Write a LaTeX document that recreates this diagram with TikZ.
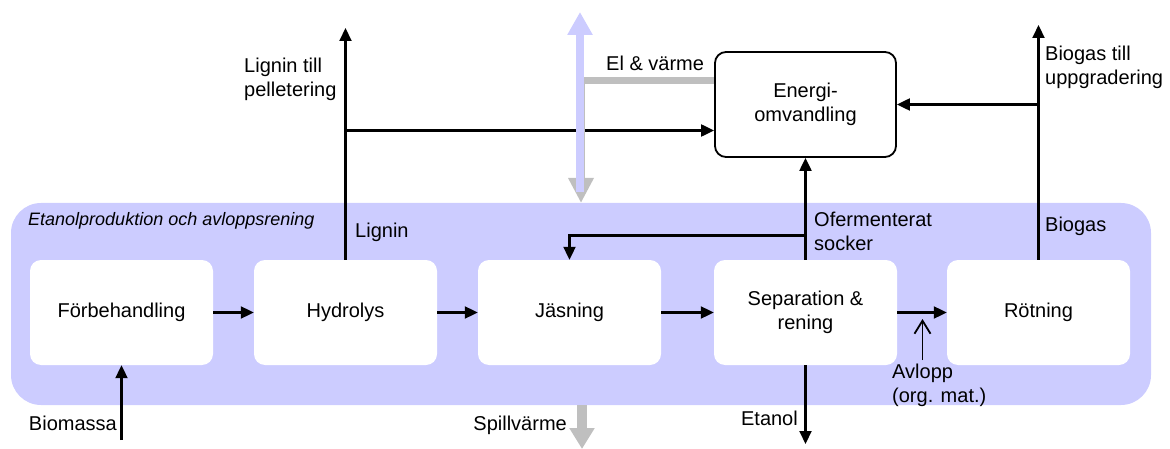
\documentclass[tikz,border=0pt]{standalone}
\usepackage{fontspec}
\setmainfont{Liberation Sans}
\usetikzlibrary{arrows.meta}
\definecolor{lblue}{HTML}{CCCCFF}
\definecolor{lgray}{HTML}{BFBFBF}
\begin{document}
\begin{tikzpicture}[x=1pt,y=-1pt,
  font=\fontsize{20}{24}\selectfont,
  box/.style={fill=white, rounded corners=11pt, minimum width=183pt, minimum height=105pt, inner sep=0pt, align=center},
  ebox/.style={fill=white, draw=black, line width=1.8pt, rounded corners=11pt, minimum width=181pt, minimum height=105pt, inner sep=0pt, align=center},
  lbl/.style={inner sep=0pt, align=left},
  flow/.style={line width=2.1pt, -{Triangle[length=13pt,width=12pt]}},
  openflow/.style={line width=1.8pt, -{Straight Barb[length=13pt,width=16pt]}},
]
\useasboundingbox (0,0) rectangle (1170,449);
% background region
\fill[lblue, rounded corners=30pt] (11,203) rectangle (1151,405);
\node[lbl, anchor=west, font=\fontsize{18}{22}\selectfont\itshape] (title) at (28,221) {Etanolproduktion och avloppsrening};

% process boxes
\node[box] (forb) at (121.5,312.5) {Förbehandling};
\node[box] (hyd) at (345.5,312.5) {Hydrolys};
\node[box] (jas) at (569.5,312.5) {Jäsning};
\node[box] (sep) at (805.5,312.5) {Separation \&\\rening};
\node[box] (rot) at (1038.5,312.5) {Rötning};
\node[ebox] (ener) at (805.5,104.5) {Energi-\\omvandling};

% main flow
\draw[flow] (forb) -- (hyd);
\draw[flow] (hyd) -- (jas);
\draw[flow] (jas) -- (sep);
\draw[flow] (sep) -- (rot);

% biomassa
\coordinate (bio) at (121.5,440);
\draw[flow] (bio) -- (forb.south);
\node[lbl, anchor=east] (biolbl) at (117,423) {Biomassa};

% lignin
\coordinate (ligtop) at (345.5,28);
\draw[flow] (hyd.north) -- (ligtop);
\coordinate (ligj) at (345.5,130.5);
\draw[flow] (ligj) -- (ligj -| ener.west);
\node[lbl, anchor=west] (liglbl) at (244,79) {Lignin till\\pelletering};
\node[lbl, anchor=west] (lig) at (355,232) {Lignin};

% biogas
\coordinate (biotop) at (1038.5,25);
\draw[flow] (rot.north) -- (biotop);
\draw[flow] (rot.north |- ener.east) -- (ener.east);
\node[lbl, anchor=west] (bglbl) at (1045,67) {Biogas till\\uppgradering};
\node[lbl, anchor=west] (bg) at (1045,226) {Biogas};

% ofermenterat socker
\draw[flow] (sep.north) -- (ener.south);
\coordinate (ofy) at (0,235.5);
\draw[flow] (sep.north |- ofy) -| (jas.north);
\node[lbl, anchor=west] (oflbl) at (814,231) {Ofermenterat\\socker};

% etanol
\coordinate (etend) at (805.5,444);
\draw[flow] (sep.south) -- (etend);
\node[lbl, anchor=east] (etlbl) at (798,418) {Etanol};

% avlopp
\coordinate (avs) at (922.5,360);
\coordinate (ave) at (922.5,319);
\draw[openflow] (avs) -- (ave);
\node[lbl, anchor=north west] (avlbl) at (892,364) {Avlopp\\(org. mat.)};

% spillvärme
\coordinate (sps) at (582,405);
\coordinate (spe) at (582,449);
\draw[lgray, line width=10pt, -{Triangle[length=21pt,width=24pt]}] (sps) -- (spe);
\node[lbl, anchor=east] (splbl) at (567,425) {Spillvärme};

% el & värme (gray) and heat export (light blue)
\coordinate (elturn) at (581,203);
\draw[lgray, line width=7pt, -{Triangle[length=25pt,width=24pt]}] ([yshift=24pt]ener.west) -| (elturn);
\coordinate (blbot) at (580,192);
\coordinate (bltop) at (580,12);
\draw[lblue, line width=8pt, -{Triangle[length=23pt,width=24pt]}] (blbot) -- (bltop);
\node[lbl, anchor=west] (ellbl) at (606,63) {El \& värme};
\end{tikzpicture}
\end{document}
